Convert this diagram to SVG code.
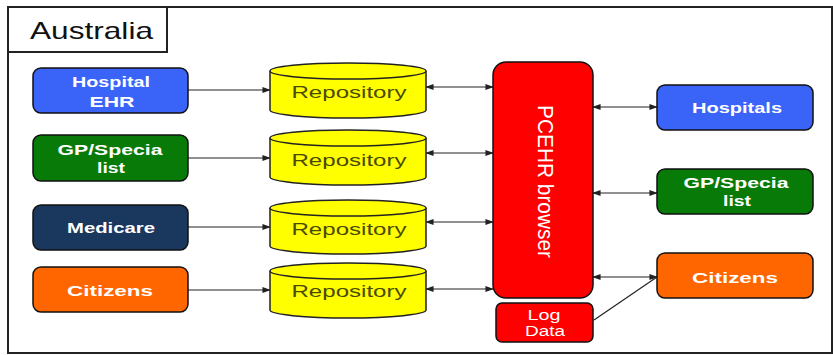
<svg xmlns="http://www.w3.org/2000/svg" width="833" height="355" viewBox="0 0 833 355">
<style>
.box{stroke:#111;stroke-width:1.5}
.t{font-family:"Liberation Sans",Arial,sans-serif;font-size:15px;font-weight:bold;fill:#fff;text-anchor:middle}
.rt{font-family:"Liberation Sans",Arial,sans-serif;font-size:17px;fill:#4a4a00;text-anchor:middle}
.cyl{fill:#ffff00;stroke:#222;stroke-width:1.5}
.c{stroke:#222;stroke-width:1.2;fill:none}
</style>
<defs>
<marker id="ah" viewBox="0 0 10 10" refX="9" refY="5" markerWidth="7" markerHeight="7" orient="auto-start-reverse">
<path d="M0,1.5 L10,5 L0,8.5 z" fill="#222"/>
</marker>
</defs>
<rect x="0" y="0" width="833" height="355" fill="#fff"/>
<g id="frame">
<rect x="8" y="7" width="824" height="346" fill="none" stroke="#222" stroke-width="2"/>
<rect x="8" y="7" width="159" height="45" fill="#fff" stroke="#222" stroke-width="2"/>
<text x="30" y="39" font-family="Liberation Sans,Arial,sans-serif" font-size="24" fill="#111" textLength="123" lengthAdjust="spacingAndGlyphs">Australia</text>
</g>
<g id="connectors">
<line class="c" x1="188" y1="90" x2="270" y2="90" marker-end="url(#ah)"/>
<line class="c" x1="188" y1="158" x2="270" y2="158" marker-end="url(#ah)"/>
<line class="c" x1="188" y1="227" x2="270" y2="227" marker-end="url(#ah)"/>
<line class="c" x1="188" y1="290" x2="270" y2="290" marker-end="url(#ah)"/>
<line class="c" x1="426" y1="87" x2="493" y2="87" marker-start="url(#ah)" marker-end="url(#ah)"/>
<line class="c" x1="426" y1="153" x2="493" y2="153" marker-start="url(#ah)" marker-end="url(#ah)"/>
<line class="c" x1="426" y1="222" x2="493" y2="222" marker-start="url(#ah)" marker-end="url(#ah)"/>
<line class="c" x1="426" y1="289" x2="493" y2="289" marker-start="url(#ah)" marker-end="url(#ah)"/>
<line class="c" x1="593" y1="107" x2="657" y2="107" marker-start="url(#ah)" marker-end="url(#ah)"/>
<line class="c" x1="593" y1="193" x2="657" y2="193" marker-start="url(#ah)" marker-end="url(#ah)"/>
<line class="c" x1="593" y1="277" x2="657" y2="277" marker-start="url(#ah)" marker-end="url(#ah)"/>
<line class="c" x1="594" y1="320" x2="657" y2="277"/>
</g>
<g id="hospital-ehr">
<rect class="box" x="33" y="68" width="155" height="45" rx="8" fill="#3a63f8"/>
<text class="t" x="111" y="87" textLength="78" lengthAdjust="spacingAndGlyphs">Hospital</text>
<text class="t" x="112" y="107" textLength="45" lengthAdjust="spacingAndGlyphs">EHR</text>
</g>
<g id="gp-left">
<rect class="box" x="33" y="135" width="155" height="46" rx="8" fill="#077a07"/>
<text class="t" x="110" y="155" textLength="105" lengthAdjust="spacingAndGlyphs">GP/Specia</text>
<text class="t" x="111" y="173" textLength="28" lengthAdjust="spacingAndGlyphs">list</text>
</g>
<g id="medicare">
<rect class="box" x="33" y="205" width="155" height="45" rx="8" fill="#1a375e"/>
<text class="t" x="111" y="233" textLength="88" lengthAdjust="spacingAndGlyphs">Medicare</text>
</g>
<g id="citizens-left">
<rect class="box" x="33" y="267" width="155" height="45" rx="8" fill="#ff6600"/>
<text class="t" x="110" y="296" textLength="86" lengthAdjust="spacingAndGlyphs">Citizens</text>
</g>
<g id="repo1">
<path class="cyl" d="M270,71 L270,110 A78,8 0 0 0 426,110 L426,71 A78,8 0 0 0 270,71 Z"/>
<path class="cyl" d="M270,71 A78,8 0 0 0 426,71"/>
<text class="rt" x="349" y="98" textLength="115" lengthAdjust="spacingAndGlyphs">Repository</text>
</g>
<g id="repo2">
<path class="cyl" d="M270,138 L270,177 A78,8 0 0 0 426,177 L426,138 A78,8 0 0 0 270,138 Z"/>
<path class="cyl" d="M270,138 A78,8 0 0 0 426,138"/>
<text class="rt" x="349" y="166" textLength="115" lengthAdjust="spacingAndGlyphs">Repository</text>
</g>
<g id="repo3">
<path class="cyl" d="M270,208 L270,246 A78,8 0 0 0 426,246 L426,208 A78,8 0 0 0 270,208 Z"/>
<path class="cyl" d="M270,208 A78,8 0 0 0 426,208"/>
<text class="rt" x="349" y="235" textLength="115" lengthAdjust="spacingAndGlyphs">Repository</text>
</g>
<g id="repo4">
<path class="cyl" d="M270,271 L270,310 A78,8 0 0 0 426,310 L426,271 A78,8 0 0 0 270,271 Z"/>
<path class="cyl" d="M270,271 A78,8 0 0 0 426,271"/>
<text class="rt" x="349" y="297" textLength="115" lengthAdjust="spacingAndGlyphs">Repository</text>
</g>
<g id="pcehr">
<rect class="box" x="493" y="62" width="100" height="236" rx="13" fill="#ff0000"/>
<text x="545" y="105" transform="rotate(90 545 105)" font-family="Liberation Sans,Arial,sans-serif" font-size="22" fill="#fff" dominant-baseline="central" textLength="153" lengthAdjust="spacingAndGlyphs">PCEHR browser</text>
</g>
<g id="log-data">
<rect class="box" x="496" y="303" width="97" height="39" rx="6" fill="#ff0000"/>
<text x="544" y="320" font-family="Liberation Sans,Arial,sans-serif" font-size="14" fill="#fff" text-anchor="middle" textLength="33" lengthAdjust="spacingAndGlyphs">Log</text>
<text x="545" y="336" font-family="Liberation Sans,Arial,sans-serif" font-size="14" fill="#fff" text-anchor="middle" textLength="40" lengthAdjust="spacingAndGlyphs">Data</text>
</g>
<g id="hospitals">
<rect class="box" x="657" y="85" width="156" height="45" rx="8" fill="#3a63f8"/>
<text class="t" x="737" y="113" textLength="90" lengthAdjust="spacingAndGlyphs">Hospitals</text>
</g>
<g id="gp-right">
<rect class="box" x="657" y="169" width="156" height="45" rx="8" fill="#077a07"/>
<text class="t" x="736" y="188" textLength="105" lengthAdjust="spacingAndGlyphs">GP/Specia</text>
<text class="t" x="737" y="206" textLength="28" lengthAdjust="spacingAndGlyphs">list</text>
</g>
<g id="citizens-right">
<rect class="box" x="657" y="253" width="156" height="45" rx="8" fill="#ff6600"/>
<text class="t" x="735" y="283" textLength="86" lengthAdjust="spacingAndGlyphs">Citizens</text>
</g>
</svg>
